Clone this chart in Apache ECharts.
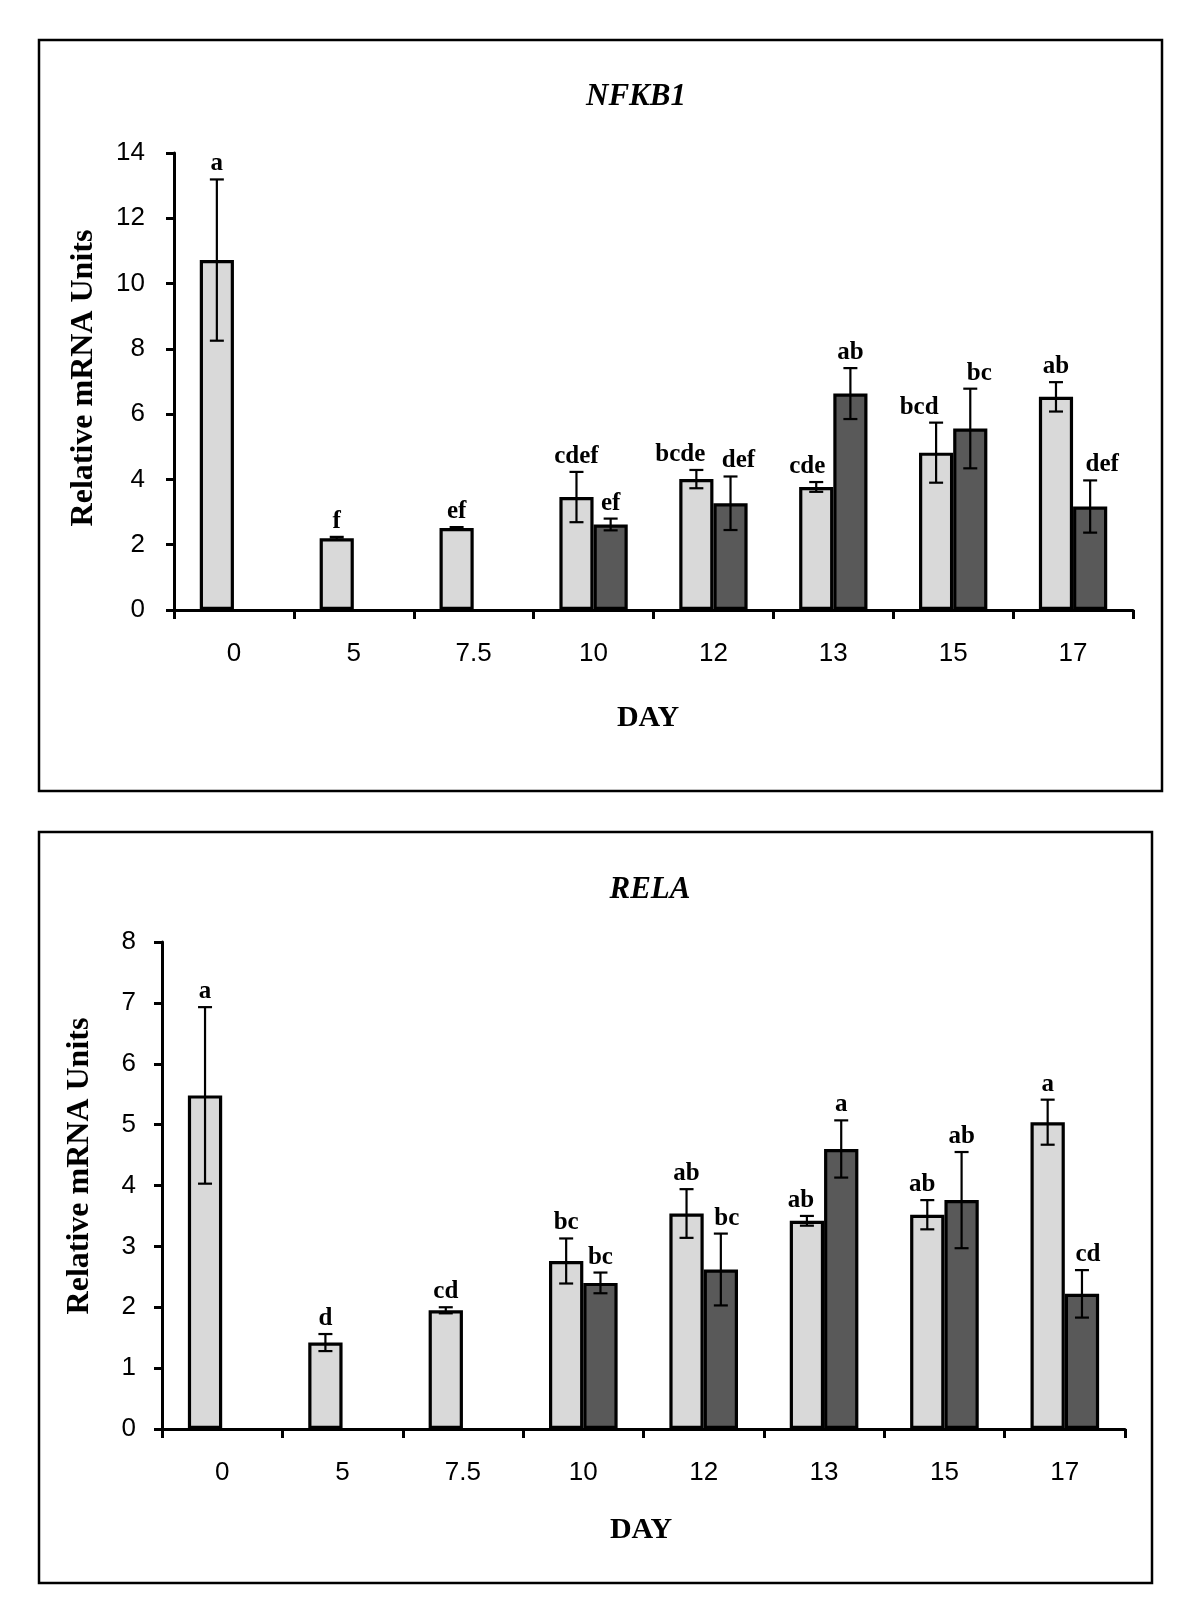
<!DOCTYPE html>
<html>
<head>
<meta charset="utf-8">
<script src="https://cdn.jsdelivr.net/npm/echarts@6/dist/echarts.min.js"></script>
<style>
html,body{margin:0;padding:0;background:#fff;}
#chart{width:1200px;height:1623px;}
</style>
</head>
<body>
<div id="chart"></div>
<script>
// ---------- DATA ----------
const days = ['0', '5', '7.5', '10', '12', '13', '15', '17'];

const nfkb1Light = [10.72, 2.20, 2.51, 3.46, 4.01, 3.77, 4.82, 6.53];
const nfkb1LightErr = [2.47, 0.04, 0.03, 0.77, 0.28, 0.15, 0.92, 0.45];
const nfkb1LightLetters = ['a', 'f', 'ef', 'cdef', 'bcde', 'cde', 'bcd', 'ab'];
const nfkb1Dark = [null, null, null, 2.62, 3.27, 6.63, 5.56, 3.17];
const nfkb1DarkErr = [null, null, null, 0.18, 0.82, 0.78, 1.22, 0.80];
const nfkb1DarkLetters = ['', '', '', 'ef', 'def', 'ab', 'bc', 'def'];

const relaLight = [5.48, 1.42, 1.95, 2.76, 3.54, 3.42, 3.52, 5.04];
const relaLightErr = [1.45, 0.14, 0.05, 0.37, 0.40, 0.08, 0.24, 0.37];
const relaLightLetters = ['a', 'd', 'cd', 'bc', 'ab', 'ab', 'ab', 'a'];
const relaDark = [null, null, null, 2.40, 2.62, 4.60, 3.76, 2.22];
const relaDarkErr = [null, null, null, 0.17, 0.59, 0.47, 0.79, 0.39];
const relaDarkLetters = ['', '', '', 'bc', 'bc', 'a', 'ab', 'cd'];

const nfkb1Ticks = {min: 0, max: 14, interval: 2};
const relaTicks = {min: 0, max: 8, interval: 1};

// ---------- LAYOUT / STYLE ----------
const CAT_GAP = 0.43;
const LIGHT = '#d9d9d9';
const DARK = '#595959';
const SERIF = '"Liberation Serif", "Times New Roman", serif';
const SANS = '"Liberation Sans", Arial, sans-serif';
// horizontal nudges of letter labels (px), to mimic the figure's spacing
const nudge = {
  nfkb1Light: [0, 0, 0, 0, -16, -9, -17, 0],
  nfkb1Dark: [0, 0, 0, 0, 8, 0, 9, 12],
  relaLight: [0, 0, 0, 0, 0, -6, -5, 0],
  relaDark: [0, 0, 0, 0, 6, 0, 0, 6]
};

const chart = echarts.init(document.getElementById('chart'), null, {renderer: 'canvas'});

function xAxisCfg(gi) {
  return {
    type: 'category', gridIndex: gi, data: days, boundaryGap: true,
    axisLine: {lineStyle: {color: '#000', width: 3}},
    axisTick: {show: true, length: 9, lineStyle: {color: '#000', width: 3}, alignWithLabel: false},
    axisLabel: {color: '#000', fontFamily: SANS, fontSize: 26, margin: 31}
  };
}
function yAxisCfg(gi, t, margin) {
  return {
    type: 'value', gridIndex: gi, min: t.min, max: t.max, interval: t.interval,
    splitLine: {show: false},
    axisLine: {show: true, lineStyle: {color: '#000', width: 3}},
    axisTick: {show: true, length: 8, lineStyle: {color: '#000', width: 3}},
    axisLabel: {color: '#000', fontFamily: SANS, fontSize: 26, margin: margin}
  };
}
function barSeries(gi, vals, color) {
  return {
    type: 'bar', xAxisIndex: gi, yAxisIndex: gi, data: vals.map(v => v == null ? '-' : v),
    barGap: '0%', barCategoryGap: (CAT_GAP * 100) + '%',
    itemStyle: {color: color, borderColor: '#000', borderWidth: 3.2},
    silent: true, z: 2
  };
}
function errSeries(gi, vals, errs, letters, nud, side) {
  const data = vals.map((v, i) => [i, v, errs[i]]).filter(d => d[1] != null);
  return {
    type: 'custom', xAxisIndex: gi, yAxisIndex: gi, data: data, z: 5, silent: true,
    renderItem: function (params, api) {
      const i = api.value(0), v = api.value(1), e = api.value(2);
      const band = api.size([1, 0])[0];
      const barW = band * (1 - CAT_GAP) / 2;
      const cx = api.coord([i, 0])[0] + side * barW / 2;
      const yTop = api.coord([i, v + e])[1];
      const yBot = api.coord([i, v - e])[1];
      const cap = 7;
      const ls = {stroke: '#000', lineWidth: 2.2};
      return {
        type: 'group',
        children: [
          {type: 'line', shape: {x1: cx, y1: yTop, x2: cx, y2: yBot}, style: ls},
          {type: 'line', shape: {x1: cx - cap, y1: yTop, x2: cx + cap, y2: yTop}, style: ls},
          {type: 'line', shape: {x1: cx - cap, y1: yBot, x2: cx + cap, y2: yBot}, style: ls},
          {type: 'text', style: {
            text: letters[i], x: cx + nud[i], y: yTop - 3,
            textAlign: 'center', textVerticalAlign: 'bottom',
            font: 'bold 25px ' + SERIF, fill: '#000'
          }}
        ]
      };
    }
  };
}
function txt(t, x, y, font, rot) {
  return {type: 'text', x: x, y: y, rotation: rot || 0, silent: true,
    style: {text: t, font: font, fill: '#000', textAlign: 'center', textVerticalAlign: 'middle'}};
}

chart.setOption({
  backgroundColor: '#fff',
  animation: false,
  grid: [
    {left: 174, right: 1200 - 1133, top: 153, height: 457},
    {left: 162, right: 1200 - 1125, top: 942, height: 487}
  ],
  xAxis: [xAxisCfg(0), xAxisCfg(1)],
  yAxis: [yAxisCfg(0, nfkb1Ticks, 29), yAxisCfg(1, relaTicks, 26)],
  series: [
    barSeries(0, nfkb1Light, LIGHT),
    barSeries(0, nfkb1Dark, DARK),
    errSeries(0, nfkb1Light, nfkb1LightErr, nfkb1LightLetters, nudge.nfkb1Light, -1),
    errSeries(0, nfkb1Dark, nfkb1DarkErr, nfkb1DarkLetters, nudge.nfkb1Dark, 1),
    barSeries(1, relaLight, LIGHT),
    barSeries(1, relaDark, DARK),
    errSeries(1, relaLight, relaLightErr, relaLightLetters, nudge.relaLight, -1),
    errSeries(1, relaDark, relaDarkErr, relaDarkLetters, nudge.relaDark, 1)
  ],
  graphic: [
    {type: 'rect', silent: true, shape: {x: 39, y: 40, width: 1123, height: 751},
      style: {fill: 'none', stroke: '#000', lineWidth: 2.5}},
    {type: 'rect', silent: true, shape: {x: 39, y: 832, width: 1113, height: 751},
      style: {fill: 'none', stroke: '#000', lineWidth: 2.5}},
    txt('NFKB1', 636, 97, 'italic bold 31px ' + SERIF),
    txt('RELA', 650, 890, 'italic bold 31px ' + SERIF),
    txt('DAY', 648, 718, 'bold 30px ' + SERIF),
    txt('DAY', 641, 1530, 'bold 30px ' + SERIF),
    txt('Relative mRNA Units', 84, 378, 'bold 32px ' + SERIF, Math.PI / 2),
    txt('Relative mRNA Units', 80, 1166, 'bold 32px ' + SERIF, Math.PI / 2)
  ]
});
</script>
</body>
</html>
